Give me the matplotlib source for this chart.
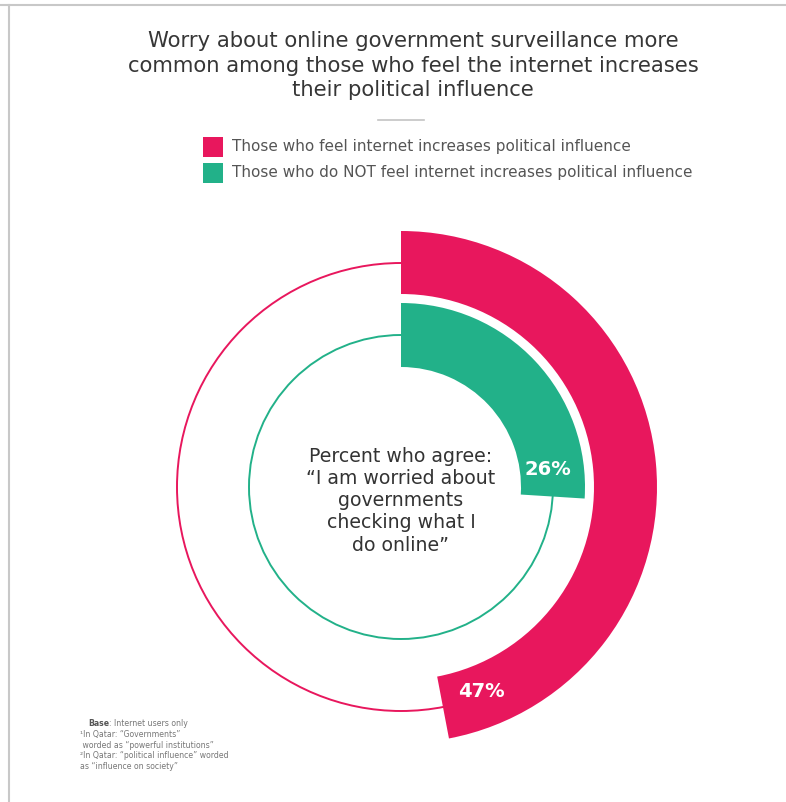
import numpy as np
import matplotlib.pyplot as plt
from matplotlib.patches import Circle, Rectangle

# survey results (percent who agree)
groups = [
    "Those who feel internet increases political influence",
    "Those who do NOT feel internet increases political influence",
]
agree_pct = [47, 26]
colors = ["#E8175D", "#22B189"]

title_lines = [
    "Worry about online government surveillance more",
    "common among those who feel the internet increases",
    "their political influence",
]
center_lines = [
    "Percent who agree:",
    "\u201cI am worried about",
    "governments",
    "checking what I",
    "do online\u201d",
]
notes = [
    "\u00b9In Qatar: \u201cGovernments\u201d",
    " worded as \u201cpowerful institutions\u201d",
    "\u00b2In Qatar: \u201cpolitical influence\u201d worded",
    "as \u201cinfluence on society\u201d",
]

W, H = 786, 802
fig = plt.figure(figsize=(W / 100, H / 100), dpi=100)
fig.patch.set_facecolor("white")

# background axes in pixel units (y grows downwards)
bg = fig.add_axes([0, 0, 1, 1])
bg.set_xlim(0, W)
bg.set_ylim(H, 0)
bg.axis("off")

# thin frame on top and left
bg.plot([0, W], [5, 5], color="#c8c8c8", lw=1.5)
bg.plot([9, 9], [5, H], color="#c8c8c8", lw=1.5)

for i, line in enumerate(title_lines):
    bg.text(413, 41 + i * 24.5, line, ha="center", va="center",
            fontsize=15.2, color="#363636", fontfamily="DejaVu Sans")
bg.plot([378, 424], [120, 120], color="#c4c4c4", lw=1.2)

for i, (label, c) in enumerate(zip(groups, colors)):
    y = 147 + i * 26
    bg.add_patch(Rectangle((203, y - 10), 20, 20, color=c, lw=0))
    bg.text(232, y, label, ha="left", va="center", fontsize=11,
            color="#555555")

# footnote
base = bg.text(88, 724, "Base", ha="left", va="center", fontsize=5.6,
               color="#555555", fontweight="bold")
bg.annotate(": Internet users only", xy=(1, 0.5), xycoords=base,
            ha="left", va="center", fontsize=5.6, color="#777777")
for i, line in enumerate(notes):
    bg.text(80, 734.5 + i * 10.7, line, ha="left", va="center",
            fontsize=5.6, color="#777777")

# donut axes: one data unit = outer ring radius
cx, cy, R = 401, 487, 256
ax = fig.add_axes([(cx - R) / W, (H - cy - R) / H, 2 * R / W, 2 * R / H])

ring_outer = [1.0, 184 / R]
ring_width = [63 / R, 64 / R]
guide_r = [224 / R, 152 / R]
label_r = [220 / R, 148 / R]

for pct, c, r0, w, gr, lr in zip(agree_pct, colors, ring_outer, ring_width,
                                  guide_r, label_r):
    ax.add_patch(Circle((0, 0), gr, fill=False, color=c, lw=1.4, zorder=1))
    wedges, _ = ax.pie([pct, 100 - pct], radius=r0, startangle=90,
                       counterclock=False, colors=[c, "none"],
                       wedgeprops=dict(width=w, linewidth=0))
    for wd in wedges:
        wd.set_zorder(2)
        wd.set_clip_on(False)
    # label sits just inside the end of the arc
    ang = np.deg2rad(90 - (pct * 3.6 - 10.5))
    ax.text(lr * np.cos(ang), lr * np.sin(ang), f"{pct}%", ha="center",
            va="center", fontsize=14, fontweight="bold", color="white",
            zorder=3)

for i, line in enumerate(center_lines):
    ax.text(0, (487 - 456 - i * 22.3) / R, line, ha="center", va="center",
            fontsize=13.6, color="#333333", zorder=3)

ax.set_xlim(-1, 1)
ax.set_ylim(-1, 1)
ax.set_aspect("equal")
ax.axis("off")

fig.savefig("out.png", dpi=100, facecolor="white")
